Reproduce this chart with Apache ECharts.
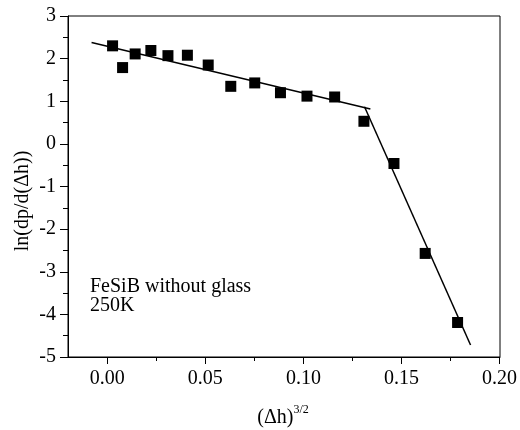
<!DOCTYPE html>
<html>
<head>
<meta charset="utf-8">
<script src="https://cdn.jsdelivr.net/npm/echarts@6/dist/echarts.min.js"></script>
<style>html,body{margin:0;padding:0;background:#fff}#c{width:520px;height:430px}</style>
</head>
<body>
<div id="c"></div>
<script>
// Data
const xVals = [0.0027, 0.0078, 0.0142, 0.0222, 0.0309, 0.0408, 0.0514, 0.0629, 0.0751, 0.0882, 0.1017, 0.1158, 0.1307, 0.1460, 0.1619, 0.1784];
const yVals = [2.30, 1.79, 2.11, 2.19, 2.07, 2.08, 1.85, 1.35, 1.43, 1.20, 1.12, 1.10, 0.53, -0.46, -2.57, -4.19];
const fit1X = [-0.008, 0.134];
const fit1Y = [2.38, 0.82];
const fit2X = [0.131, 0.185];
const fit2Y = [0.87, -4.72];
const xMin = -0.02, xMax = 0.20;
const xTickStart = 0, xTickInterval = 0.05;
const yMin = -5, yMax = 3, yInterval = 1;
const annotation = ['FeSiB without glass', '250K'];

const FONT = '"Liberation Serif", "Times New Roman", serif';
const W = 520, H = 430;
const G = {left: 68, right: 20, top: 16, bottom: 73};
const plotW = W - G.left - G.right;
// second grid starts where x = xTickStart lies, so its axis ticks line up with the data axis
const tickGridLeft = G.left + plotW * (xTickStart - xMin) / (xMax - xMin);

const chart = echarts.init(document.getElementById('c'), null, {renderer: 'canvas'});
const zip = (a, b) => a.map((v, i) => [v, b[i]]);

chart.setOption({
  animation: false,
  backgroundColor: '#fff',
  grid: [
    {left: G.left, top: G.top, right: G.right, bottom: G.bottom, show: true, borderColor: '#000', borderWidth: 1, containLabel: false},
    {left: tickGridLeft, top: G.top, right: G.right, bottom: G.bottom, show: false, containLabel: false}
  ],
  xAxis: [{
    gridIndex: 0, type: 'value', min: xMin, max: xMax,
    axisLine: {show: true, onZero: false, lineStyle: {color: '#000', width: 1}},
    axisTick: {show: false}, axisLabel: {show: false}, splitLine: {show: false}
  }, {
    gridIndex: 1, type: 'value', min: xTickStart, max: xMax, interval: xTickInterval,
    axisLine: {show: false, onZero: false},
    axisTick: {show: true, inside: false, length: 7, lineStyle: {color: '#000', width: 1}},
    minorTick: {show: true, splitNumber: 2, length: 4, lineStyle: {color: '#000', width: 1}},
    axisLabel: {show: true, margin: 12, color: '#000', fontFamily: FONT, fontSize: 20,
      formatter: v => v.toFixed(2)},
    splitLine: {show: false}
  }],
  yAxis: [{
    gridIndex: 0, type: 'value', min: yMin, max: yMax, interval: yInterval,
    axisLine: {show: true, onZero: false, lineStyle: {color: '#000', width: 1}},
    axisTick: {show: true, inside: false, length: 8, lineStyle: {color: '#000'}},
    minorTick: {show: true, splitNumber: 2, length: 5, lineStyle: {color: '#000'}},
    axisLabel: {margin: 12, color: '#000', fontFamily: FONT, fontSize: 20},
    splitLine: {show: false}
  }, {
    gridIndex: 1, type: 'value', min: yMin, max: yMax, show: false
  }],
  series: [
    {type: 'line', xAxisIndex: 0, yAxisIndex: 0, data: zip(fit1X, fit1Y), symbol: 'none', lineStyle: {color: '#000', width: 1.5}, z: 2},
    {type: 'line', xAxisIndex: 0, yAxisIndex: 0, data: zip(fit2X, fit2Y), symbol: 'none', lineStyle: {color: '#000', width: 1.5}, z: 2},
    {type: 'scatter', xAxisIndex: 0, yAxisIndex: 0, data: zip(xVals, yVals), symbol: 'rect', symbolSize: 11,
      itemStyle: {color: '#000', opacity: 1}, z: 3}
  ],
  graphic: [
    {type: 'text', left: 90, top: 277, style: {text: annotation.join('\n'), font: '20px ' + FONT, fill: '#000', lineHeight: 19}},
    {type: 'text', x: 23, y: 201, rotation: Math.PI / 2,
      style: {text: 'ln(dp/d(\u0394h))', font: '20px ' + FONT, fill: '#000', align: 'center', verticalAlign: 'middle'}},
    {type: 'text', x: 283, y: 416,
      style: {text: '{b|(\u0394h)}{s|3/2}', align: 'center', verticalAlign: 'middle',
        rich: {b: {font: '20px ' + FONT, fill: '#000', color: '#000', verticalAlign: 'bottom'},
               s: {font: '12px ' + FONT, fill: '#000', color: '#000', verticalAlign: 'top', padding: [0, 0, 12, 0]}}}}
  ]
});
</script>
</body>
</html>
